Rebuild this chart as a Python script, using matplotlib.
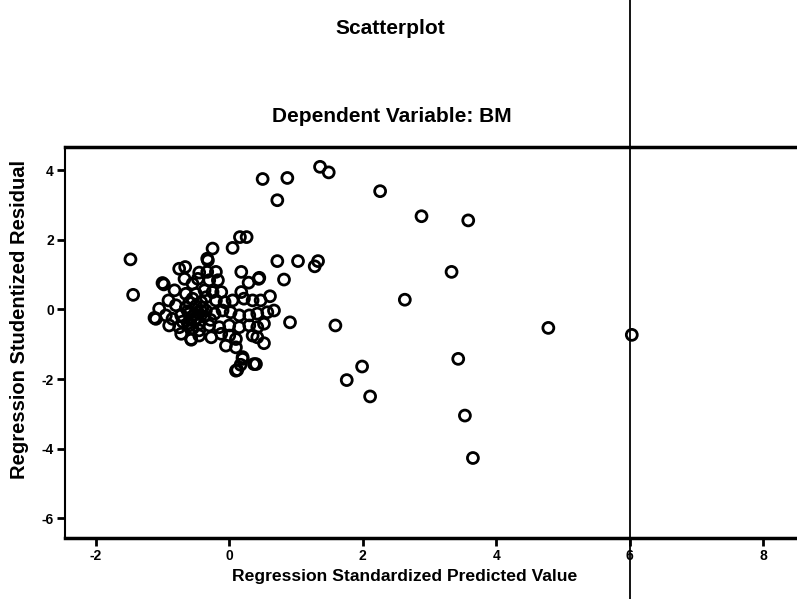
import numpy as np
import matplotlib
matplotlib.use("Agg")
import matplotlib.pyplot as plt

# standardized predicted values (x) and studentized residuals (y)
pred = [
    -1.48, -1.44, 0.50, 0.87, 1.36, 1.49, 0.72, 0.16, 0.26, -0.25, 0.05,
    0.72, 1.03, 1.33, 1.28, 0.18, 0.45, 0.82, 0.29, 0.61, 0.67, 0.91, 1.59,
    1.76, 0.52, 0.37, 0.20, 0.17, 0.12, -0.57, -1.10, -0.98, -0.75, -0.66,
    -0.33, 2.26, 2.88, 3.58, 3.33, 2.63, 4.78, 6.03, 3.43, 1.99, 2.11, 3.53,
    3.65,
    -0.32, -0.45, -0.33, -0.20, -1.00, -0.67, -0.55, -0.47, -0.30, -0.17,
    0.44, -0.82, -0.65, -0.37, -0.25, -0.12, 0.18, -0.91, -0.80, -0.55,
    -0.42, -0.20, -0.07, 0.05, 0.22, 0.35, 0.47, -1.05, -1.12, -0.95, -0.85,
    -0.72, -0.60, -0.47, -0.35, -0.22, -0.10, 0.02, 0.15, 0.30, 0.42, 0.57,
    -0.90, -0.75, -0.60, -0.45, -0.30, -0.15, 0.00, 0.15, 0.30, 0.42, 0.52,
    -0.72, -0.57, -0.45, -0.27, -0.12, 0.00, 0.10, 0.35, 0.42, -0.05, 0.10,
    0.20, 0.40, 0.10,
    -0.62, -0.52, -0.58, -0.48, -0.40, -0.65, -0.50, -0.38, -0.55, -0.45,
    -0.70, -0.60, -0.35, -0.52, -0.42, -0.28, -0.62, -0.50,
]
resid = [
    1.44, 0.42, 3.75, 3.78, 4.10, 3.94, 3.14, 2.08, 2.08, 1.75, 1.77,
    1.39, 1.39, 1.39, 1.24, 1.08, 0.91, 0.86, 0.77, 0.38, -0.03, -0.37, -0.46,
    -2.03, -0.97, -1.57, -1.42, -1.59, -1.74, -0.87, -0.27, 0.72, 1.17, 1.22,
    1.46, 3.40, 2.68, 2.56, 1.08, 0.28, -0.53, -0.73, -1.42, -1.64, -2.50,
    -3.05, -4.27,
    1.41, 1.06, 1.08, 1.08, 0.76, 0.88, 0.74, 0.88, 0.84, 0.84,
    0.88, 0.55, 0.45, 0.55, 0.50, 0.50, 0.50, 0.26, 0.12, 0.31,
    0.21, 0.26, 0.21, 0.26, 0.31, 0.26, 0.26, 0.02, -0.24, -0.17, -0.27,
    -0.17, -0.12, -0.08, -0.03, -0.12, -0.03, -0.08, -0.17, -0.17, -0.12, -0.08,
    -0.46, -0.51, -0.46, -0.41, -0.46, -0.51, -0.46, -0.51, -0.46, -0.51, -0.41,
    -0.70, -0.85, -0.75, -0.80, -0.70, -0.75, -0.85, -0.75, -0.80, -1.04, -1.09,
    -1.37, -1.57, -1.76,
    -0.05, -0.15, -0.30, -0.25, 0.05, 0.05, 0.10, -0.20, -0.55, -0.60,
    -0.35, 0.20, 0.35, -0.30, -0.05, -0.30, -0.40, 0.45,
]

xticks = [-2, 0, 2, 4, 6, 8]
yticks = [-6, -4, -2, 0, 2, 4]
ref_x = 6

plt.rcParams['font.family'] = ['Liberation Sans', 'DejaVu Sans']

fig = plt.figure(figsize=(7.97, 5.99), dpi=100)
ax = fig.add_axes([0.0816, 0.1018, 0.918, 0.6528])

ax.scatter(pred, resid, s=62, facecolors='none', edgecolors='black', linewidths=2.0, zorder=3)

ax.set_xlim(-2.46, 8.5)
ax.set_ylim(-6.57, 4.67)
ax.set_xticks(xticks)
ax.set_yticks(yticks)
ax.set_xticklabels([str(t) for t in xticks], fontweight='bold', fontsize=10)
ax.set_yticklabels([str(t) for t in yticks], fontweight='bold', fontsize=10)
ax.tick_params(direction='out', length=6, width=2, color='black', pad=2)

for side in ['top', 'bottom']:
    ax.spines[side].set_linewidth(2.5)
ax.spines['left'].set_linewidth(1.5)
ax.spines['right'].set_visible(False)

# vertical reference line running through the whole page
ax.axvline(ref_x, ymin=-0.16, ymax=1.38, color='black', linewidth=1.3, clip_on=False, zorder=4)

fig.text(0.508, 0.037, 'Regression Standardized Predicted Value', ha='center', va='center',
         fontweight='bold', fontsize=12.6)
fig.text(0.025, 0.466, 'Regression Studentized Residual', ha='center', va='center',
         rotation=90, fontweight='bold', fontsize=14.5)

fig.text(0.49, 0.953, 'Scatterplot', ha='center', va='center', fontweight='bold', fontsize=15)
fig.text(0.492, 0.806, 'Dependent Variable: BM', ha='center', va='center', fontweight='bold', fontsize=15)

fig.savefig('out.png', dpi=100)
